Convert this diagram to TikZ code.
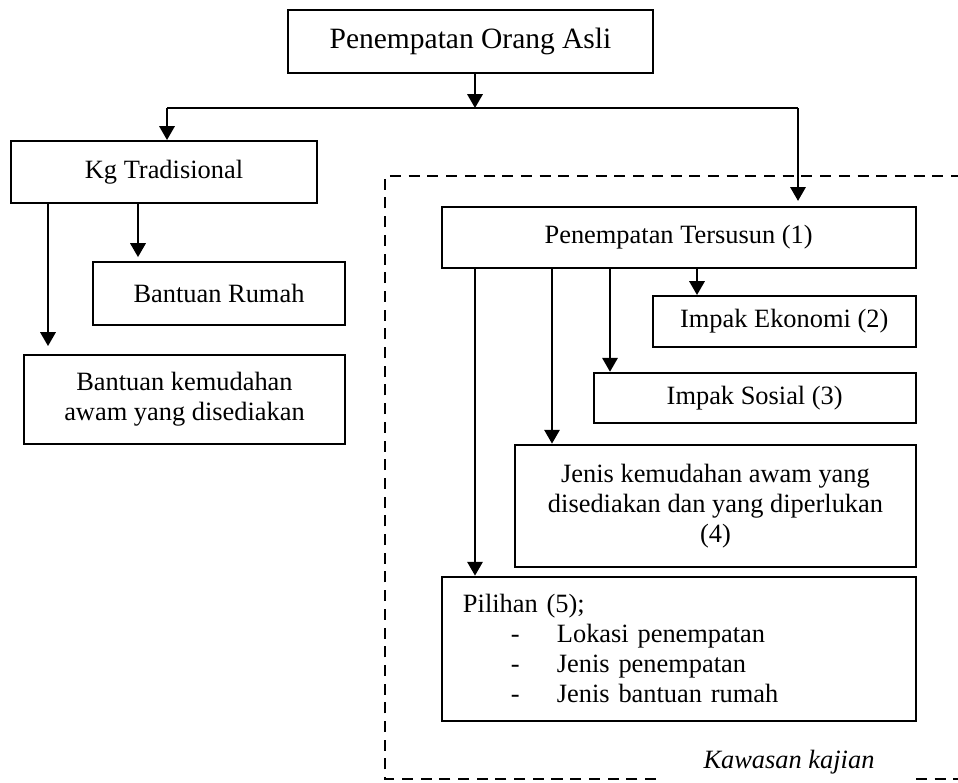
\documentclass[tikz,border=0pt]{standalone}
\usepackage{fontspec}
\setmainfont{Liberation Serif}
\usepackage{tikz}
\usetikzlibrary{positioning, arrows.meta}

\begin{document}
\begin{tikzpicture}[x=0.4545pt, y=-0.4545pt, line width=0.9pt,
        box/.style={draw, rectangle, inner sep=2pt, align=center, font=\fontsize{12}{13.6}\selectfont},
        arr/.style={-{Triangle[length=6.3pt, width=7pt]}},
        zone/.style={dash pattern=on 5pt off 3.5pt}]
            \useasboundingbox (0, 0) rectangle (958, 782);

            \node [box, minimum width=165.9pt, minimum height=28.6pt, font=\fontsize{13.4}{16}\selectfont] (OA) at (470.5, 41.5) {Penempatan Orang Asli};
            \node [box, minimum width=139.1pt, minimum height=28.2pt] (KT) at (164, 172) {Kg Tradisional};
            \node [box, minimum width=114.5pt, minimum height=28.6pt] (BR) at (219, 293.5) {Bantuan Rumah};
            \node [box, minimum width=145.9pt, minimum height=40.5pt] (BK) at (184.5, 399.5) {Bantuan kemudahan\\awam yang disediakan};
            \node [box, minimum width=215.4pt, minimum height=27.7pt] (PT) at (678.6, 237.2) {Penempatan Tersusun (1)};
            \node [box, minimum width=119.4pt, minimum height=23pt] (IE) at (784.2, 321.3) {Impak Ekonomi (2)};
            \node [box, minimum width=146.3pt, minimum height=22.7pt] (IS) at (754.7, 397.7) {Impak Sosial (3)};
            \node [box, minimum width=181.9pt, minimum height=55.8pt] (JK) at (715.5, 506) {Jenis kemudahan awam yang\\disediakan dan yang diperlukan\\(4)};
            \node [box, minimum width=215.4pt, minimum height=65.6pt, text width=196pt, inner xsep=9.7pt, align=left] (PL) at (678.6, 648.8)
                {Pilihan (5);\\
                \hspace*{21.8pt}\makebox[20.9pt][l]{-}Lokasi penempatan\\
                \hspace*{21.8pt}\makebox[20.9pt][l]{-}Jenis penempatan\\
                \hspace*{21.8pt}\makebox[20.9pt][l]{-}Jenis bantuan rumah};
            \node [anchor=base, inner sep=0pt, font=\fontsize{12}{13.6}\selectfont\itshape] (KK) at (789, 768) {Kawasan kajian};

            \coordinate (J) at (475, 108);
            \coordinate (JL) at (167, 108);
            \coordinate (JR) at (798, 108);

            \draw [arr] (OA.south -| J) -- (J);
            \draw (JL) -- (JR);
            \draw [arr] (JL) -- (JL |- KT.north);
            \draw [arr, shorten >=2.2pt] (JR) -- (JR |- PT.north);

            \draw [arr, shorten >=1.8pt] (138, 0 |- KT.south) -- (138, 0 |- BR.north);
            \draw [arr, shorten >=3.6pt] (48, 0 |- KT.south) -- (48, 0 |- BK.north);

            \draw [arr] (697, 0 |- PT.south) -- (697, 0 |- IE.north);
            \draw [arr] (610, 0 |- PT.south) -- (610, 0 |- IS.north);
            \draw [arr] (552, 0 |- PT.south) -- (552, 0 |- JK.north);
            \draw [arr] (475, 0 |- PT.south) -- (475, 0 |- PL.north);

            % kawasan kajian
            \draw [zone] (656, 779) -- (385, 779) -- (385, 176) -- (958, 176);
            \draw [zone] (916, 779) -- (958, 779);
        \end{tikzpicture}
\end{document}
